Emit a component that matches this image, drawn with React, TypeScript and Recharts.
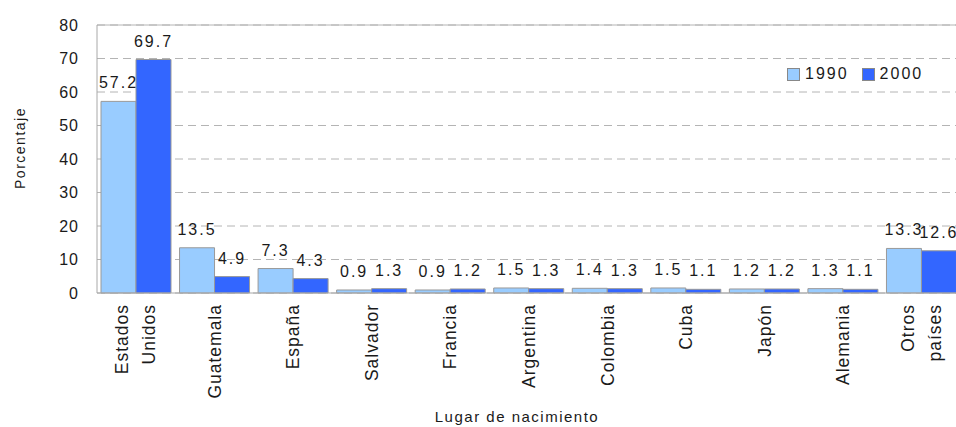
import React from "react";
import {
  BarChart,
  Bar,
  XAxis,
  YAxis,
  CartesianGrid,
  ReferenceLine,
  LabelList,
  Legend,
} from "recharts";

// Lugar de nacimiento de la población extranjera, 1990 vs 2000 (%)

const paises = [
  "Estados Unidos",
  "Guatemala",
  "España",
  "Salvador",
  "Francia",
  "Argentina",
  "Colombia",
  "Cuba",
  "Japón",
  "Alemania",
  "Otros países",
];
const v1990 = [57.2, 13.5, 7.3, 0.9, 0.9, 1.5, 1.4, 1.5, 1.2, 1.3, 13.3];
const v2000 = [69.7, 4.9, 4.3, 1.3, 1.2, 1.3, 1.3, 1.1, 1.2, 1.1, 12.6];
const yTicks = [0, 10, 20, 30, 40, 50, 60, 70, 80];

const LIGHT = "#99CCFF";
const BLUE = "#3366FF";
const FONT = "'Liberation Sans', Arial, sans-serif";
const INK = "#1a1a1a";

const data = paises.map((p, i) => ({ pais: p, a1990: v1990[i], a2000: v2000[i] }));

function PaisTick(props: any) {
  const { x, y, payload } = props;
  const words: string[] = String(payload.value).split(" ");
  const shifts = words.length > 1 ? [-14, 13] : [0];
  return (
    <g>
      {words.map((w, i) => (
        <text
          key={w}
          transform={`translate(${x + shifts[i]}, ${y}) rotate(-90)`}
          textAnchor="end"
          dominantBaseline="central"
          fill={INK}
          style={{ fontFamily: FONT, fontSize: 17.5, letterSpacing: 1 }}
        >
          {w}
        </text>
      ))}
    </g>
  );
}

function Leyenda(props: any) {
  const items = props.payload || [];
  return (
    <div style={{ display: "flex", alignItems: "center", fontFamily: FONT, fontSize: 16, color: INK, letterSpacing: 2 }}>
      {items.map((it: any) => (
        <span key={it.value} style={{ display: "flex", alignItems: "center", marginRight: 13 }}>
          <span
            style={{
              width: 11,
              height: 11,
              background: it.color,
              border: "1px solid #888",
              marginRight: 5,
              display: "inline-block",
            }}
          />
          {it.value}
        </span>
      ))}
    </div>
  );
}

export default function App() {
  return (
    <div style={{ position: "absolute", left: 0, top: 0, width: 956, height: 427, overflow: "hidden", background: "#fff" }}>
      <BarChart
        width={972}
        height={427}
        data={data}
        margin={{ top: 25, right: 11, bottom: 0, left: 0 }}
        barCategoryGap={4}
        barGap={0}
      >
        <CartesianGrid vertical={false} stroke="#b4b4b4" strokeDasharray="8 5" />
        <ReferenceLine y={80} stroke="#b4b4b4" />
        <XAxis
          dataKey="pais"
          height={134}
          interval={0}
          tickSize={0}
          tickMargin={11}
          stroke="#a8a8a8"
          tick={<PaisTick />}
          label={{
            content: () => (
              <text
                x={517}
                y={416}
                textAnchor="middle"
                dominantBaseline="central"
                fill={INK}
                style={{ fontFamily: FONT, fontSize: 15, letterSpacing: 1.5 }}
              >
                Lugar de nacimiento
              </text>
            ),
          }}
        />
        <YAxis
          width={97}
          domain={[0, 80]}
          ticks={yTicks}
          interval={0}
          tickSize={0}
          tickMargin={18}
          stroke="#a8a8a8"
          tick={{ fill: INK, fontSize: 16, fontFamily: FONT, letterSpacing: 1 }}
          label={{
            content: () => (
              <text
                x={20}
                y={148}
                transform="rotate(-90 20 148)"
                textAnchor="middle"
                dominantBaseline="central"
                fill={INK}
                style={{ fontFamily: FONT, fontSize: 14, letterSpacing: 1.5 }}
              >
                Porcentaje
              </text>
            ),
          }}
        />
        <Legend
          layout="horizontal"
          verticalAlign="middle"
          align="center"
          content={<Leyenda />}
          wrapperStyle={{ position: "absolute", left: 787, top: 65, width: "auto" }}
        />
        <Bar dataKey="a1990" name="1990" fill={LIGHT} stroke="#999" isAnimationActive={false}>
          <LabelList
            dataKey="a1990"
            position="top"
            offset={13}
            fill={INK}
            style={{ fontFamily: FONT, fontSize: 16, letterSpacing: 2 }}
          />
        </Bar>
        <Bar dataKey="a2000" name="2000" fill={BLUE} stroke="#999" isAnimationActive={false}>
          <LabelList
            dataKey="a2000"
            position="top"
            offset={13}
            fill={INK}
            style={{ fontFamily: FONT, fontSize: 16, letterSpacing: 2 }}
          />
        </Bar>
      </BarChart>
    </div>
  );
}
